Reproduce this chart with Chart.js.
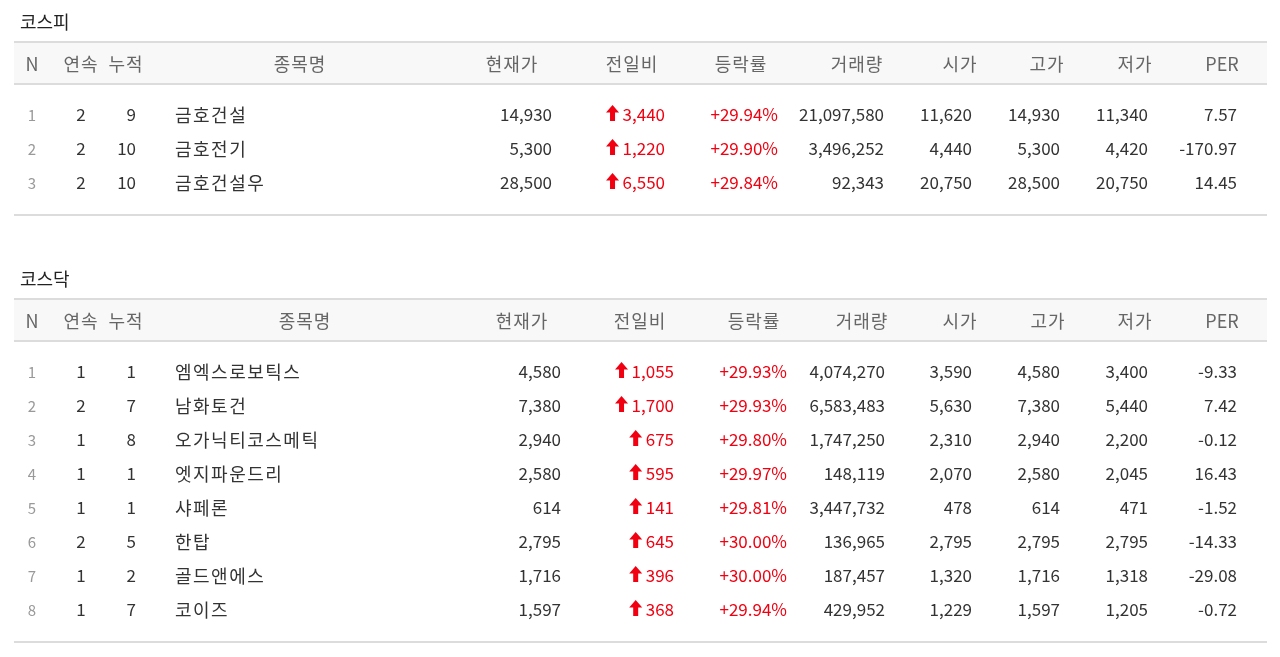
<!DOCTYPE html>
<html><head><meta charset="utf-8">
<script src="https://cdn.jsdelivr.net/npm/chart.js@4"></script>
<style>html,body{margin:0;padding:0;background:#fff;overflow:hidden}#c{display:block}</style>
</head><body><canvas id="c" width="1280" height="657"></canvas>
<script>
const headers = ["N","연속","누적","종목명","현재가","전일비","등락률","거래량","시가","고가","저가","PER"];
// 코스피
const kospiN = [1,2,3];
const kospiStreak = [2,2,2];
const kospiTotal = [9,10,10];
const kospiName = ["금호건설","금호전기","금호건설우"];
const kospiPrice = ["14,930","5,300","28,500"];
const kospiChange = ["3,440","1,220","6,550"];
const kospiRate = ["+29.94%","+29.90%","+29.84%"];
const kospiVolume = ["21,097,580","3,496,252","92,343"];
const kospiOpen = ["11,620","4,440","20,750"];
const kospiHigh = ["14,930","5,300","28,500"];
const kospiLow = ["11,340","4,420","20,750"];
const kospiPER = ["7.57","-170.97","14.45"];
// 코스닥
const kosdaqN = [1,2,3,4,5,6,7,8];
const kosdaqStreak = [1,2,1,1,1,2,1,1];
const kosdaqTotal = [1,7,8,1,1,5,2,7];
const kosdaqName = ["엠엑스로보틱스","남화토건","오가닉티코스메틱","엣지파운드리","샤페론","한탑","골드앤에스","코이즈"];
const kosdaqPrice = ["4,580","7,380","2,940","2,580","614","2,795","1,716","1,597"];
const kosdaqChange = ["1,055","1,700","675","595","141","645","396","368"];
const kosdaqRate = ["+29.93%","+29.93%","+29.80%","+29.97%","+29.81%","+30.00%","+30.00%","+29.94%"];
const kosdaqVolume = ["4,074,270","6,583,483","1,747,250","148,119","3,447,732","136,965","187,457","429,952"];
const kosdaqOpen = ["3,590","5,630","2,310","2,070","478","2,795","1,320","1,229"];
const kosdaqHigh = ["4,580","7,380","2,940","2,580","614","2,795","1,716","1,597"];
const kosdaqLow = ["3,400","5,440","2,200","2,045","471","2,795","1,318","1,205"];
const kosdaqPER = ["-9.33","7.42","-0.12","16.43","-1.52","-14.33","-29.08","-0.72"];

const tables = [
  {title:"코스피", top:41, cols:[kospiN,kospiStreak,kospiTotal,kospiName,kospiPrice,kospiChange,kospiRate,kospiVolume,kospiOpen,kospiHigh,kospiLow,kospiPER],
   hx:[32,81,126,300,512,632,741,857,960,1047,1135,1222],
   cx:[32,81,136,175,552,665,778,884,972,1060,1148,1237]},
  {title:"코스닥", top:298, cols:[kosdaqN,kosdaqStreak,kosdaqTotal,kosdaqName,kosdaqPrice,kosdaqChange,kosdaqRate,kosdaqVolume,kosdaqOpen,kosdaqHigh,kosdaqLow,kosdaqPER],
   hx:[32,81,126,305,522,640,754,862,960,1048,1135,1222],
   cx:[32,81,136,175,561,674,787,885,972,1060,1148,1237]}
];
const align=["center","center","right","left","right","right","right","right","right","right","right","right"];
const F='"Noto Sans CJK KR","Noto Sans",sans-serif';

const tablePlugin={id:'tbl',afterDraw(chart){
  const ctx=chart.ctx, xs=chart.scales.x, ys=chart.scales.y;
  const X=v=>xs.getPixelForValue(v), Y=v=>ys.getPixelForValue(v);
  ctx.save();
  tables.forEach(t=>{
    const top=t.top, n=t.cols[0].length;
    ctx.letterSpacing='0px';
    ctx.fillStyle='#222';ctx.font='18px '+F;ctx.textAlign='left';ctx.textBaseline='middle';
    ctx.fillText(t.title,X(20),Y(top-19));
    ctx.fillStyle='#f8f8f8';ctx.fillRect(X(14),Y(top),X(1267)-X(14),Y(top+42)-Y(top));
    ctx.fillStyle='#dcdcdc';ctx.fillRect(X(14),Y(top),X(1267)-X(14),2);
    ctx.fillRect(X(14),Y(top+42),X(1267)-X(14),2);
    ctx.fillRect(X(14),Y(top+173+(n-3)*34),X(1267)-X(14),2);
    ctx.fillStyle='#666';ctx.font='18px '+F;ctx.textAlign='center';
    headers.forEach((h,i)=>{ctx.letterSpacing=(i===0||i===11)?'0px':'1px';ctx.fillText(h,X(t.hx[i]),Y(top+23));});
    for(let r=0;r<n;r++){
      const y=Y(top+74+r*34);
      t.cols.forEach((col,i)=>{
        const v=String(col[r]);
        ctx.textAlign=align[i];
        ctx.letterSpacing='0px';
        if(i===0){ctx.fillStyle='#999';ctx.font='15px '+F;}
        else if(i===5||i===6){ctx.fillStyle='#f00010';ctx.font='17px '+F;}
        else if(i===3){ctx.fillStyle='#333';ctx.font='18px '+F;ctx.letterSpacing='1.5px';}
        else {ctx.fillStyle='#333';ctx.font='17px '+F;}
        ctx.fillText(v,X(t.cx[i]),y);
        if(i===5){
          const w=ctx.measureText(v).width, ax=X(t.cx[i])-w-10;
          ctx.beginPath();
          ctx.moveTo(ax,y-10);ctx.lineTo(ax+6.5,y-2.5);ctx.lineTo(ax+2.5,y-2.5);ctx.lineTo(ax+2.5,y+6);
          ctx.lineTo(ax-2.5,y+6);ctx.lineTo(ax-2.5,y-2.5);ctx.lineTo(ax-6.5,y-2.5);ctx.closePath();ctx.fill();
        }
      });
    }
  });
  ctx.restore();
}};

new Chart(document.getElementById('c'),{
  type:'scatter',
  data:{datasets:[{data:[],showLine:false}]},
  options:{responsive:false,animation:false,
    layout:{padding:0},
    plugins:{legend:{display:false},tooltip:{enabled:false}},
    scales:{x:{type:'linear',min:0,max:1280,display:false},
            y:{type:'linear',min:0,max:657,reverse:true,display:false}}},
  plugins:[tablePlugin]
});
</script></body></html>
